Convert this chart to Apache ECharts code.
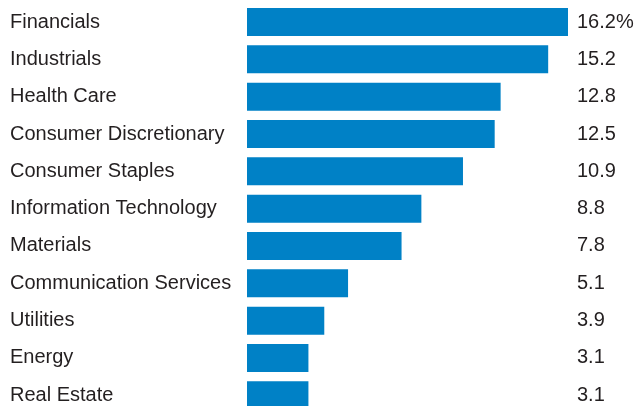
<!DOCTYPE html>
<html>
<head>
<meta charset="utf-8">
<script src="https://cdn.jsdelivr.net/npm/echarts@6/dist/echarts.min.js"></script>
<style>
  html, body { margin: 0; padding: 0; background: #fff; }
  #chart { width: 641px; height: 406px; }
</style>
</head>
<body>
<div id="chart"></div>
<script>
// settori e pesi (%)
const sectors = [
  'Financials', 'Industrials', 'Health Care', 'Consumer Discretionary',
  'Consumer Staples', 'Information Technology', 'Materials',
  'Communication Services', 'Utilities', 'Energy', 'Real Estate'
];
const weights = [16.2, 15.2, 12.8, 12.5, 10.9, 8.8, 7.8, 5.1, 3.9, 3.1, 3.1];
const valueLabels = ['16.2%', '15.2', '12.8', '12.5', '10.9', '8.8', '7.8', '5.1', '3.9', '3.1', '3.1'];

const chart = echarts.init(document.getElementById('chart'), null, { renderer: 'canvas' });

const textStyle = {
  fontFamily: '"Liberation Sans", Arial, sans-serif',
  fontSize: 20,
  color: '#231f20'
};

// boundaryGap false: i centri delle righe cadono sui bordi della griglia
chart.setOption({
  animation: false,
  grid: { left: 247, top: 22, width: 321, height: 373.3, containLabel: false },
  xAxis: {
    type: 'value', min: 0, max: 16.2,
    show: false
  },
  yAxis: [
    {
      type: 'category', data: sectors, inverse: true, boundaryGap: false,
      axisLine: { show: false }, axisTick: { show: false }, splitLine: { show: false },
      axisLabel: Object.assign({ align: 'left', margin: 237 }, textStyle)
    },
    {
      type: 'category', data: valueLabels, inverse: true, position: 'right', boundaryGap: false,
      axisLine: { show: false }, axisTick: { show: false }, splitLine: { show: false },
      axisLabel: Object.assign({ align: 'left', margin: 9 }, textStyle)
    }
  ],
  series: [{
    type: 'bar',
    data: weights,
    barWidth: 28,
    clip: false,
    itemStyle: { color: '#0081c6' }
  }]
});
</script>
</body>
</html>
